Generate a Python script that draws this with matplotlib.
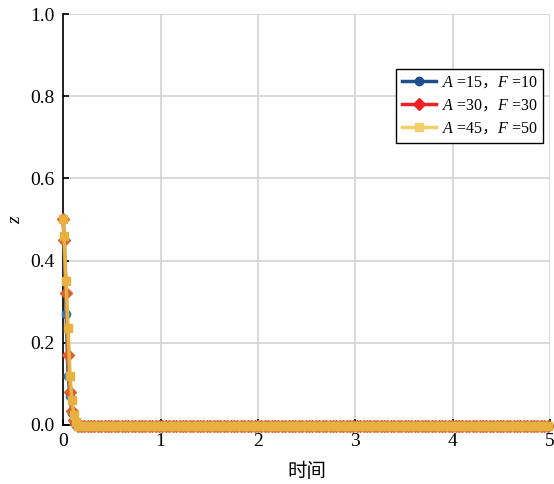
import numpy as np
import matplotlib
matplotlib.use('Agg')
import matplotlib.pyplot as plt
from matplotlib.lines import Line2D

plt.rcParams['font.family'] = ['Liberation Serif', 'Noto Sans CJK SC', 'DejaVu Sans']
plt.rcParams['mathtext.fontset'] = 'custom'
plt.rcParams['mathtext.rm'] = 'Liberation Serif'
plt.rcParams['mathtext.it'] = 'Liberation Serif:italic'
plt.rcParams['mathtext.tt'] = 'Noto Sans CJK SC'

# данные: время и z для трёх случаев
t_head = [0.0, 0.01, 0.03, 0.05, 0.07, 0.09, 0.11, 0.13, 0.15]
z_a15 = [0.5, 0.45, 0.27, 0.12, 0.07, 0.03, 0.01, 0.0, -0.003]
z_a30 = [0.5, 0.45, 0.32, 0.17, 0.08, 0.035, 0.012, 0.002, -0.003]
z_a45 = [0.5, 0.46, 0.35, 0.235, 0.12, 0.06, 0.025, 0.008, -0.002]
t_tail = list(np.round(np.arange(0.18, 5.0001, 0.035), 3))
z_tail = [-0.003] * len(t_tail)

labels = ['$A$ =15$\\mathtt{，}F$ =10', '$A$ =30$\\mathtt{，}F$ =30', '$A$ =45$\\mathtt{，}F$ =50']
line_colors = ['#2f7dbd', '#d9602f', '#e8b03e']
legend_colors = ['#1f4e8c', '#ee2222', '#f0cf6a']
markers = ['o', 'D', 's']

t = t_head + t_tail
series = [z_a15 + z_tail, z_a30 + z_tail, z_a45 + z_tail]

fig = plt.figure(figsize=(5.54, 4.84), dpi=100)
ax = fig.add_axes([0.114, 0.122, 0.879, 0.849])

for z, c, m in zip(series, line_colors, markers):
    ax.plot(t, z, color=c, marker=m, markersize=6, linewidth=2.5, clip_on=False, zorder=3)

ax.set_xlim(0, 5)
ax.set_ylim(0, 1)
ax.set_xticks([0, 1, 2, 3, 4, 5])
ax.set_yticks([0, 0.2, 0.4, 0.6, 0.8, 1.0])
ax.set_yticklabels(['0.0', '0.2', '0.4', '0.6', '0.8', '1.0'])
ax.grid(color='#d3d3d3', linewidth=1.2)
ax.set_axisbelow(True)
ax.tick_params(direction='in', length=4, width=1.2, labelsize=14, colors='black', pad=6)
for s in ['top', 'right']:
    ax.spines[s].set_visible(False)
for s in ['left', 'bottom']:
    ax.spines[s].set_linewidth(1.2)

ax.set_xlabel('时间', fontsize=14, labelpad=9)
ax.set_ylabel('$z$', fontsize=14, labelpad=5)

handles = [Line2D([], [], color=c, marker=m, markersize=6, linewidth=2.5)
           for c, m in zip(legend_colors, markers)]
leg = ax.legend(handles, labels, loc='upper right', bbox_to_anchor=(0.986, 0.866),
                fontsize=11.5, frameon=True, fancybox=False, framealpha=1,
                handlelength=2.1, handletextpad=0.4, borderpad=0.35,
                labelspacing=0.45, borderaxespad=0)
leg.get_frame().set_edgecolor('black')
leg.get_frame().set_linewidth(1.0)

plt.savefig('out.png', dpi=100)
plt.close()
